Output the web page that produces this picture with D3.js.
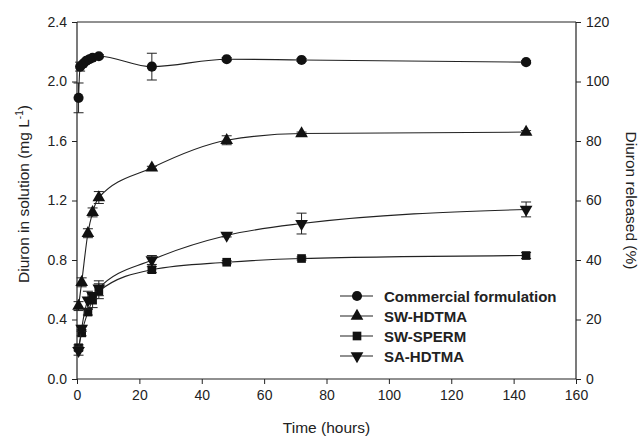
<!DOCTYPE html>
<html><head><meta charset="utf-8">
<script src="https://cdn.jsdelivr.net/npm/d3@7"></script>
<style>body{margin:0;background:#fff}svg{display:block}text{font-family:"Liberation Sans",Arial,sans-serif;fill:#222}</style>
</head><body><svg id="c" width="641" height="440"></svg>
<script>
const seriesNames = ["Commercial formulation","SW-HDTMA","SW-SPERM","SA-HDTMA"];
const timesCommercial = [0.5, 1, 2, 3, 4, 5, 7, 24, 48, 72, 144];
const valuesCommercial = [1.89, 2.10, 2.12, 2.14, 2.15, 2.16, 2.17, 2.10, 2.15, 2.145, 2.13];
const errCommercial = [0.10, 0.03, 0.01, 0.01, 0.01, 0.01, 0.01, 0.09, 0.01, 0.01, 0.01];
const timesOther = [0.5, 1.5, 3.5, 5, 7, 24, 48, 72, 144];
const valuesSWHDTMA = [0.49, 0.65, 0.98, 1.12, 1.22, 1.42, 1.605, 1.65, 1.66];
const errSWHDTMA = [0.03, 0.03, 0.03, 0.03, 0.04, 0.01, 0.03, 0.01, 0.01];
const valuesSWSPERM = [0.21, 0.31, 0.45, 0.53, 0.59, 0.735, 0.785, 0.81, 0.83];
const errSWSPERM = [0.02, 0.02, 0.02, 0.05, 0.05, 0.02, 0.01, 0.01, 0.02];
const valuesSAHDTMA = [0.19, 0.34, 0.53, 0.56, 0.61, 0.80, 0.965, 1.045, 1.14];
const errSAHDTMA = [0.03, 0.02, 0.06, 0.02, 0.05, 0.03, 0.01, 0.07, 0.05];
const xTicks = [0,20,40,60,80,100,120,140,160];
const yTicks = [0,0.4,0.8,1.2,1.6,2.0,2.4];
const y2Ticks = [0,20,40,60,80,100,120];

const svg = d3.select("#c");
const L=77,R=576,T=22,B=379;
const x = d3.scaleLinear().domain([0,160]).range([L,R]);
const y = d3.scaleLinear().domain([0,2.4]).range([B,T]);
const y2 = d3.scaleLinear().domain([0,120]).range([B,T]);
const ink="#222";

// axes
const gx = svg.append("g").attr("transform",`translate(0,${B})`)
  .call(d3.axisBottom(x).tickValues(xTicks).tickFormat(d3.format("d")).tickSize(5).tickPadding(6));
const gy = svg.append("g").attr("transform",`translate(${L},0)`)
  .call(d3.axisLeft(y).tickValues(yTicks).tickFormat(d3.format(".1f")).tickSize(5).tickPadding(5));
const gy2 = svg.append("g").attr("transform",`translate(${R},0)`)
  .call(d3.axisRight(y2).tickValues(y2Ticks).tickFormat(d3.format("d")).tickSize(5).tickPadding(5));
[gx,gy,gy2].forEach(g=>{
  g.select(".domain").attr("stroke",ink).attr("stroke-width",1.2);
  g.selectAll(".tick line").attr("stroke",ink);
  g.selectAll(".tick text").style("font-size","14px").attr("fill",ink);
});
gx.select(".domain").attr("d",`M${L},0H${R}`);
gy.select(".domain").attr("d",`M0,${T}V${B}`);
gy2.select(".domain").attr("d",`M0,${T}V${B}`);
svg.append("line").attr("x1",L).attr("x2",R).attr("y1",T).attr("y2",T).attr("stroke",ink).attr("stroke-width",1);

// titles
svg.append("text").attr("x",(L+R)/2).attr("y",433).attr("text-anchor","middle").style("font-size","15.5px").text("Time (hours)");
const yt = svg.append("text").attr("transform",`translate(29,194) rotate(-90)`).attr("text-anchor","middle").style("font-size","15.5px");
yt.append("tspan").text("Diuron in solution (mg L");
yt.append("tspan").attr("dy",-6).style("font-size","10px").text("-1");
yt.append("tspan").attr("dy",6).text(")");
svg.append("text").attr("transform",`translate(626,${(T+B)/2}) rotate(90)`).attr("text-anchor","middle").style("font-size","15.5px").text("Diuron released (%)");

const series = [
  {name:seriesNames[0], t:timesCommercial, v:valuesCommercial, e:errCommercial, sym:d3.symbolCircle, size:80, rot:0},
  {name:seriesNames[1], t:timesOther, v:valuesSWHDTMA, e:errSWHDTMA, sym:d3.symbolTriangle, size:70, rot:0},
  {name:seriesNames[2], t:timesOther, v:valuesSWSPERM, e:errSWSPERM, sym:d3.symbolSquare, size:75, rot:0},
  {name:seriesNames[3], t:timesOther, v:valuesSAHDTMA, e:errSAHDTMA, sym:d3.symbolTriangle, size:70, rot:180},
];
const line = d3.line().x(d=>x(d[0])).y(d=>y(d[1])).curve(d3.curveMonotoneX);
series.forEach(s=>{
  const pts = s.t.map((t,i)=>[t,s.v[i],s.e[i]]);
  svg.append("path").attr("d",line(pts)).attr("fill","none").attr("stroke",ink).attr("stroke-width",1.1);
  const g = svg.append("g");
  pts.forEach(p=>{
    const cx=x(p[0]), y1=y(p[1]+p[2]), y0=y(p[1]-p[2]);
    g.append("line").attr("x1",cx).attr("x2",cx).attr("y1",y1).attr("y2",y0).attr("stroke",ink).attr("stroke-width",1);
    [y1,y0].forEach(yy=>g.append("line").attr("x1",cx-5).attr("x2",cx+5).attr("y1",yy).attr("y2",yy).attr("stroke",ink).attr("stroke-width",1));
  });
  pts.forEach(p=>{
    g.append("path").attr("d",d3.symbol(s.sym,s.size)())
      .attr("transform",`translate(${x(p[0])},${y(p[1])}) rotate(${s.rot})`).attr("fill","#111");
  });
});

// legend
const ly0=296, ldy=20;
series.forEach((s,i)=>{
  const yy=ly0+i*ldy;
  svg.append("line").attr("x1",340).attr("x2",373).attr("y1",yy).attr("y2",yy).attr("stroke",ink).attr("stroke-width",1.1);
  svg.append("path").attr("d",d3.symbol(s.sym,s.size)()).attr("transform",`translate(357,${yy}) rotate(${s.rot})`).attr("fill","#111");
  svg.append("text").attr("x",384).attr("y",yy+5.5).style("font-size","15px").style("font-weight","bold").text(s.name);
});
</script></body></html>
